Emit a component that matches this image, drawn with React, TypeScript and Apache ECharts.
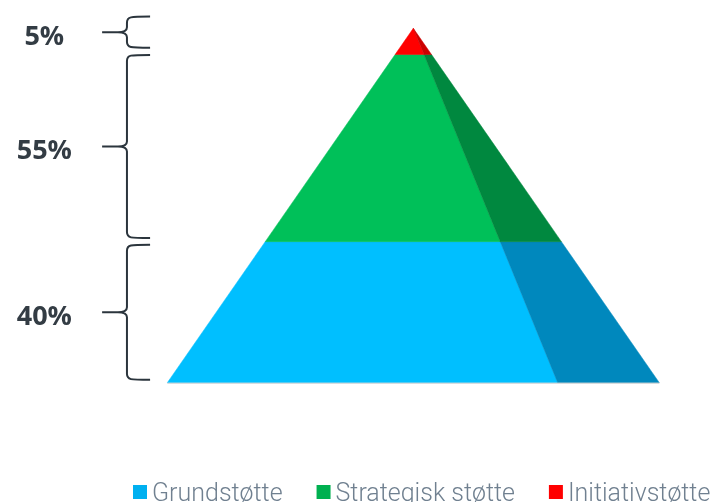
import React, { useEffect, useRef } from "react";
import * as echarts from "echarts";

// Layers, bottom to top
const categories = ["Grundstøtte", "Strategisk støtte", "Initiativstøtte"];
const layerShares = [39.8, 52.8, 7.4]; // drawn height of each layer (% of pyramid height)
const shareLabels = ["40%", "55%", "5%"];
const legendColors = ["#00B0F0", "#00B050", "#FF0000"];
const frontColors = ["#00BFFF", "#00C059", "#FF0000"];
const sideColors = ["#0088BD", "#00883F", "#CC0000"];

// Braces on the left (in % of pyramid height)
const braceLow = [0.8, 40.8, 94.5];
const braceHigh = [38.9, 92.5, 103.3];

// geometry constants (value-axis units)
const SPLIT = 0.587; // where the dark side face begins, as fraction of half width
const BRACE_X = -1.164;
const BRACE_END_X = -1.07;
const BRACE_TIP_X = -1.265;
const LABEL_X = -1.5;

export default function App() {
  const ref = useRef<HTMLDivElement>(null);

  useEffect(() => {
    if (!ref.current) return;
    const chart = echarts.init(ref.current, null, { renderer: "svg" });

    const cumulative: number[][] = [];
    let acc = 0;
    layerShares.forEach((s) => {
      cumulative.push([acc, acc + s]);
      acc += s;
    });

    const pyramidSeries = categories.map((name, i) => ({
      type: "custom",
      name,
      itemStyle: { color: legendColors[i] },
      data: [cumulative[i]],
      renderItem: (params: any, api: any) => {
        const lo = api.value(0);
        const hi = api.value(1);
        const w = (v: number) => 1 - v / 100;
        const p = (x: number, v: number) => api.coord([x, v]);
        const front = [p(-w(lo), lo), p(SPLIT * w(lo), lo), p(SPLIT * w(hi), hi), p(-w(hi), hi)];
        const side = [p(SPLIT * w(lo), lo), p(w(lo), lo), p(w(hi), hi), p(SPLIT * w(hi), hi)];
        const children: any[] = [
          { type: "polygon", shape: { points: front }, style: { fill: frontColors[i], stroke: frontColors[i], lineWidth: 0.5 } },
          { type: "polygon", shape: { points: side }, style: { fill: sideColors[i], stroke: sideColors[i], lineWidth: 0.5 } },
        ];
        if (lo === 0) {
          const a = p(-1, 0);
          const b = p(1, 0);
          children.push({
            type: "line",
            shape: { x1: a[0], y1: a[1] + 0.5, x2: b[0], y2: b[1] + 0.5 },
            style: { stroke: "#cfcfcf", lineWidth: 1 },
          });
        }
        return { type: "group", children };
      },
    }));

    const braceData = braceLow.map((lo, i) => [lo, braceHigh[i], i]);

    const braceSeries = {
      type: "custom",
      name: "braces",
      data: braceData,
      renderItem: (params: any, api: any) => {
        const lo = api.value(0);
        const hi = api.value(1);
        const idx = api.value(2);
        const top = api.coord([BRACE_X, hi])[1];
        const bot = api.coord([BRACE_X, lo])[1];
        const xv = api.coord([BRACE_X, 0])[0];
        const xe = api.coord([BRACE_END_X, 0])[0];
        const xt = api.coord([BRACE_TIP_X, 0])[0];
        const lx = api.coord([LABEL_X, 0])[0];
        const mid = (top + bot) / 2;
        const d =
          `M ${xe} ${top} C ${xv + 3} ${top} ${xv} ${top} ${xv} ${top + 6} ` +
          `L ${xv} ${mid - 5} C ${xv} ${mid - 1} ${xv - 3} ${mid} ${xv - 9} ${mid} L ${xt} ${mid} ` +
          `M ${xv - 9} ${mid} C ${xv - 3} ${mid} ${xv} ${mid + 1} ${xv} ${mid + 5} ` +
          `L ${xv} ${bot - 6} C ${xv} ${bot} ${xv + 3} ${bot} ${xe} ${bot}`;
        return {
          type: "group",
          children: [
            { type: "path", shape: { pathData: d }, style: { fill: null, stroke: "#2b353d", lineWidth: 2 } },
            {
              type: "text",
              x: lx,
              y: mid + 2,
              style: {
                text: shareLabels[idx],
                fill: "#333c44",
                fontSize: 27,
                fontWeight: "bold",
                fontFamily: "'Open Sans', sans-serif",
                align: "center",
                verticalAlign: "middle",
              },
            },
          ],
        };
      },
    };

    chart.setOption({
      animation: false,
      grid: { left: 167.3, right: 54.7, top: 28.3, bottom: 119.3 },
      xAxis: { type: "value", min: -1, max: 1, show: false },
      yAxis: { type: "value", min: 0, max: 100, show: false },
      legend: {
        data: categories,
        left: 133,
        top: 478,
        width: 900,
        padding: 0,
        itemWidth: 14,
        itemHeight: 14,
        itemGap: 34,
        icon: "rect",
        textStyle: { color: "#708090", fontSize: 25, fontFamily: "Roboto, sans-serif", fontWeight: 300, lineHeight: 28 },
      },
      series: [...pyramidSeries, braceSeries],
    });

    return () => chart.dispose();
  }, []);

  return <div ref={ref} style={{ position: "fixed", left: 0, top: 0, width: 714, height: 502 }} />;
}
